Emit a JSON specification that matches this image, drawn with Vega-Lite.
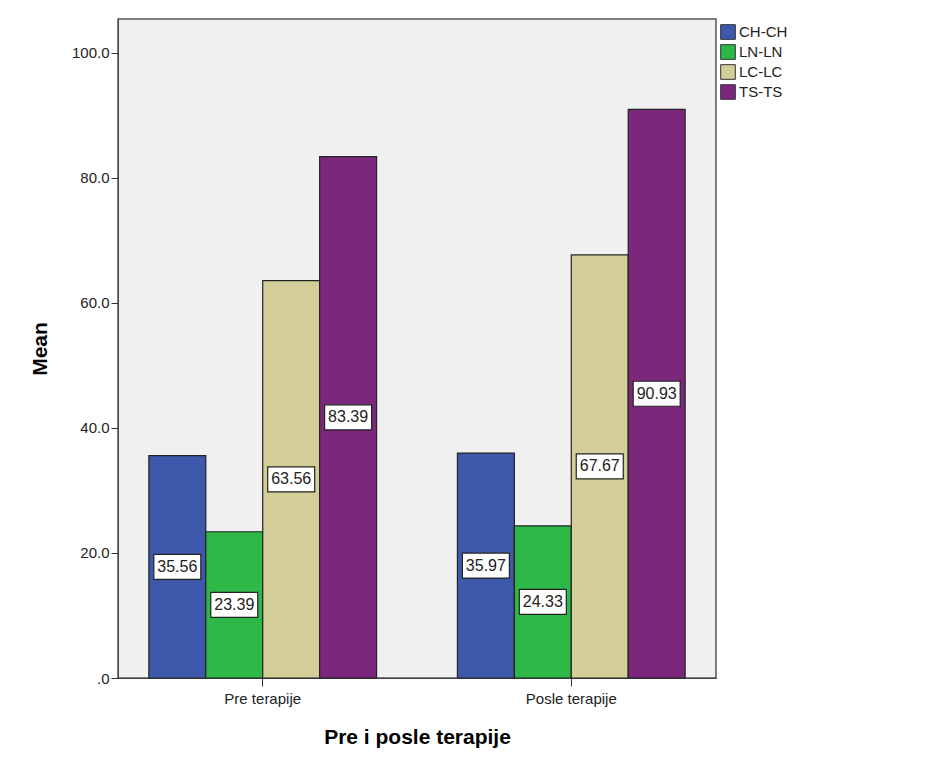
{
  "$schema": "https://vega.github.io/schema/vega-lite/v6.json",
  "width": 598,
  "height": 659,
  "autosize": "none",
  "padding": {"left": 118, "top": 19, "right": 229, "bottom": 84},
  "background": "white",
  "data": {
    "values": [
      {"period": "Pre terapije", "group": "CH-CH", "value": 35.56},
      {"period": "Pre terapije", "group": "LN-LN", "value": 23.39},
      {"period": "Pre terapije", "group": "LC-LC", "value": 63.56},
      {"period": "Pre terapije", "group": "TS-TS", "value": 83.39},
      {"period": "Posle terapije", "group": "CH-CH", "value": 35.97},
      {"period": "Posle terapije", "group": "LN-LN", "value": 24.33},
      {"period": "Posle terapije", "group": "LC-LC", "value": 67.67},
      {"period": "Posle terapije", "group": "TS-TS", "value": 90.93}
    ]
  },
  "transform": [{"calculate": "datum.value / 2", "as": "mid"}],
  "encoding": {
    "x": {
      "field": "period",
      "type": "nominal",
      "sort": ["Pre terapije", "Posle terapije"],
      "scale": {"paddingInner": 0.262, "paddingOuter": 0.1},
      "axis": {
        "title": "Pre i posle terapije",
        "labelAngle": 0,
        "labelFont": "Liberation Sans",
        "labelFontSize": 15,
        "labelColor": "#222",
        "tickSize": 8,
        "tickColor": "#333",
        "domainColor": "#444",
        "labelPadding": 5,
        "titleFont": "Liberation Sans",
        "titleFontSize": 21,
        "titleFontWeight": "bold",
        "titleColor": "black",
        "titlePadding": 20
      }
    },
    "xOffset": {
      "field": "group",
      "type": "nominal",
      "sort": ["CH-CH", "LN-LN", "LC-LC", "TS-TS"],
      "scale": {"paddingInner": 0, "paddingOuter": 0}
    }
  },
  "layer": [
    {
      "mark": {"type": "bar", "stroke": "#222", "strokeWidth": 1.2},
      "encoding": {
        "y": {
          "field": "value",
          "type": "quantitative",
          "scale": {"domain": [0, 105.4], "nice": false},
          "axis": {
            "title": "Mean",
            "values": [0, 20, 40, 60, 80, 100],
            "labelExpr": "datum.value == 0 ? '.0' : format(datum.value, '.1f')",
            "grid": false,
            "labelFont": "Liberation Sans",
            "labelFontSize": 15,
            "labelColor": "#222",
            "tickSize": 7,
            "tickColor": "#333",
            "domainColor": "#444",
            "labelPadding": 2,
            "titleFont": "Liberation Sans",
            "titleFontSize": 21,
            "titleFontWeight": "bold",
            "titleColor": "black",
            "titlePadding": 21
          }
        },
        "color": {
          "field": "group",
          "type": "nominal",
          "sort": ["CH-CH", "LN-LN", "LC-LC", "TS-TS"],
          "scale": {
            "domain": ["CH-CH", "LN-LN", "LC-LC", "TS-TS"],
            "range": ["#3E58AC", "#2EB848", "#D3CE97", "#7B287C"]
          },
          "legend": {
            "title": null,
            "orient": "none",
            "legendX": 602,
            "legendY": 5,
            "symbolType": "square",
            "symbolSize": 215,
            "symbolStrokeColor": "#333",
            "symbolStrokeWidth": 1,
            "symbolOpacity": 1,
            "rowPadding": 0,
            "labelFont": "Liberation Sans",
            "labelFontSize": 15,
            "labelColor": "#222",
            "labelOffset": 3
          }
        }
      }
    },
    {
      "mark": {"type": "rect", "width": 47, "height": 25, "fill": "white", "stroke": "#222", "strokeWidth": 1.2},
      "encoding": {
        "y": {"field": "mid", "type": "quantitative"}
      }
    },
    {
      "mark": {"type": "text", "font": "Liberation Sans", "fontSize": 16, "color": "#222", "align": "center", "baseline": "middle"},
      "encoding": {
        "y": {"field": "mid", "type": "quantitative"},
        "text": {"field": "value", "type": "quantitative", "format": ".2f"}
      }
    }
  ],
  "config": {
    "view": {"fill": "#F0F0F0", "stroke": "#555", "strokeWidth": 1.5}
  }
}
